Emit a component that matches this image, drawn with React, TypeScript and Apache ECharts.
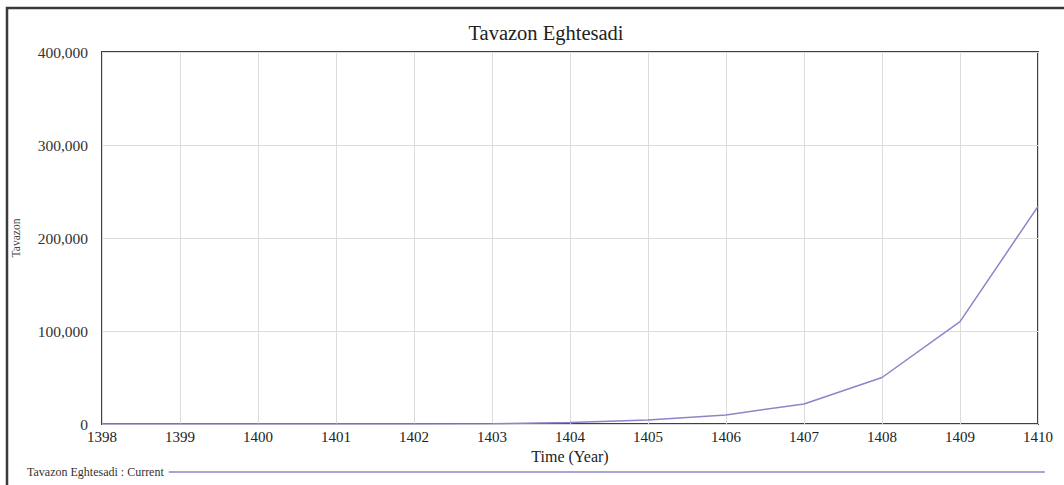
import React, { useEffect, useRef } from "react";
import * as echarts from "echarts";

const years = [1398, 1399, 1400, 1401, 1402, 1403, 1404, 1405, 1406, 1407, 1408, 1409, 1410];
const values = [0, 0, 0, 0, 0, 400, 1500, 4300, 9800, 21500, 50000, 110000, 234000];
const seriesName = "Tavazon Eghtesadi : Current";

export default function App() {
  const ref = useRef<HTMLDivElement>(null);
  useEffect(() => {
    if (!ref.current) return;
    const chart = echarts.init(ref.current, null, { renderer: "svg" });
    const font = "'Liberation Serif', 'DejaVu Serif', serif";
    chart.setOption({
      animation: false,
      backgroundColor: "#ffffff",
      textStyle: { fontFamily: font },
      title: {
        text: "Tavazon Eghtesadi",
        left: 541,
        top: 17,
        textAlign: "center",
        textStyle: { fontFamily: font, fontSize: 20.5, fontWeight: "normal", color: "#222" },
      },
      graphic: [
        {
          type: "rect",
          shape: { x: 7, y: 8, width: 1070, height: 490 },
          style: { fill: "none", stroke: "#3a3a3a", lineWidth: 2.5 },
          silent: true,
        },
      ],
      legend: {
        left: 22,
        top: 461,
        align: "right",
        icon: "rect",
        itemWidth: 876,
        itemHeight: 1.5,
        textStyle: { fontFamily: font, fontSize: 12, color: "#333" },
        data: [{ name: seriesName, itemStyle: { color: "#8a86c8" } }],
      },
      grid: {
        left: 102,
        top: 52,
        right: 1064 - 1038,
        bottom: 485 - 424,
        show: true,
        borderColor: "#404040",
        borderWidth: 2,
        containLabel: false,
      },
      xAxis: {
        type: "value",
        min: 1398,
        max: 1410,
        interval: 1,
        name: "Time (Year)",
        nameLocation: "middle",
        nameGap: 24,
        nameTextStyle: { fontFamily: font, fontSize: 16, color: "#222" },
        axisLine: { show: false },
        axisTick: { show: false },
        axisLabel: {
          formatter: (v: number) => String(v),
          fontFamily: font,
          fontSize: 15,
          color: "#222",
          margin: 5,
        },
        splitLine: { show: true, lineStyle: { color: "#dcdcdc", width: 1 } },
      },
      yAxis: {
        type: "value",
        min: 0,
        max: 400000,
        interval: 100000,
        name: "Tavazon",
        nameLocation: "middle",
        nameGap: 80,
        nameTextStyle: { fontFamily: font, fontSize: 11.5, color: "#444" },
        axisLine: { show: false },
        axisTick: { show: false },
        axisLabel: {
          formatter: (v: number) => v.toLocaleString("en-US"),
          fontFamily: font,
          fontSize: 15.5,
          color: "#333",
          margin: 14,
        },
        splitLine: { show: true, lineStyle: { color: "#dcdcdc", width: 1 } },
      },
      series: [
        {
          name: seriesName,
          type: "line",
          data: years.map((y, i) => [y, values[i]]),
          showSymbol: false,
          symbol: "none",
          lineStyle: { color: "#8a86c8", width: 1.5 },
          itemStyle: { color: "#8a86c8" },
        },
      ],
    });
    return () => chart.dispose();
  }, []);
  return (
    <div
      ref={ref}
      style={{ position: "absolute", left: 0, top: 0, width: 1064, height: 485 }}
    />
  );
}
